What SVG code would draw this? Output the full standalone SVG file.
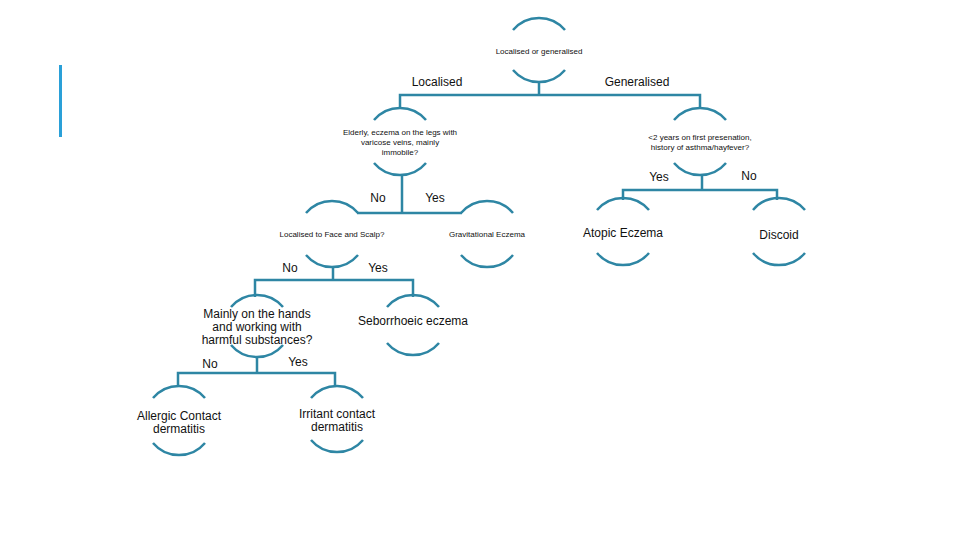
<svg xmlns="http://www.w3.org/2000/svg" width="960" height="540" viewBox="0 0 960 540">
<style>
.a{fill:none;stroke:#2e86a4;stroke-width:2.5}
.c{fill:none;stroke:#2e86a4;stroke-width:2.5}
text{font-family:"Liberation Sans",Arial,sans-serif;fill:#111;text-anchor:middle}
.s{font-size:8px}
.m{font-size:12px}
</style>
<defs>
<path id="top" class="a" d="M-26 12 A34 34 0 0 1 26 12"/>
<path id="bot" class="a" d="M-26 -12 A34 34 0 0 0 26 -12"/>
</defs>
<rect x="59" y="65" width="3" height="72" fill="#2aa0d8"/>
<g id="connectors">
<path class="c" d="M539 82V95M400 108V95H700V108"/>
<path class="c" d="M402 175V213M357 213H462"/>
<path class="c" d="M702 175V190M623 200V190H777V200"/>
<path class="c" d="M333 267V280M255 297V280H413V297"/>
<path class="c" d="M257 357V373M178 387V373H335V387"/>
</g>
<g id="labels">
<text class="m" x="437" y="86">Localised</text>
<text class="m" x="637" y="86">Generalised</text>
<text class="m" x="378" y="202">No</text>
<text class="m" x="435" y="202">Yes</text>
<text class="m" x="659" y="181">Yes</text>
<text class="m" x="749" y="180">No</text>
<text class="m" x="290" y="272">No</text>
<text class="m" x="378" y="272">Yes</text>
<text class="m" x="210" y="368">No</text>
<text class="m" x="298" y="366">Yes</text>
</g>
<g id="root" transform="translate(539,0)"><use href="#top" y="18"/><use href="#bot" y="82"/><text class="s" y="54">Localised or generalised</text></g>
<g id="elderly" transform="translate(400,0)"><use href="#top" y="108"/><use href="#bot" y="175"/><text class="s" y="135">Elderly, eczema on the legs with</text><text class="s" y="145">varicose veins, mainly</text><text class="s" y="155">immobile?</text></g>
<g id="general" transform="translate(700,0)"><use href="#top" y="108"/><use href="#bot" y="175"/><text class="s" y="140">&lt;2 years on first presenation,</text><text class="s" y="150">history of asthma/hayfever?</text></g>
<g id="face" transform="translate(332,0)"><use href="#top" y="201"/><use href="#bot" y="267"/><text class="s" y="237">Localised to Face and Scalp?</text></g>
<g id="grav" transform="translate(487,0)"><use href="#top" y="201"/><use href="#bot" y="267"/><text class="s" y="237">Gravitational Eczema</text></g>
<g id="atopic" transform="translate(623,0)"><use href="#top" y="198"/><use href="#bot" y="265"/><text class="m" y="237">Atopic Eczema</text></g>
<g id="discoid" transform="translate(779,0)"><use href="#top" y="198"/><use href="#bot" y="265"/><text class="m" y="239">Discoid</text></g>
<g id="hands" transform="translate(257,0)"><use href="#top" y="295"/><use href="#bot" y="357"/><text class="m" y="318">Mainly on the hands</text><text class="m" y="331">and working with</text><text class="m" y="344">harmful substances?</text></g>
<g id="seb" transform="translate(413,0)"><use href="#top" y="295"/><use href="#bot" y="355"/><text class="m" y="325">Seborrhoeic eczema</text></g>
<g id="allergic" transform="translate(179,0)"><use href="#top" y="386"/><use href="#bot" y="455"/><text class="m" y="420">Allergic Contact</text><text class="m" y="433">dermatitis</text></g>
<g id="irritant" transform="translate(337,0)"><use href="#top" y="386"/><use href="#bot" y="452"/><text class="m" y="418">Irritant contact</text><text class="m" y="431">dermatitis</text></g>
</svg>
